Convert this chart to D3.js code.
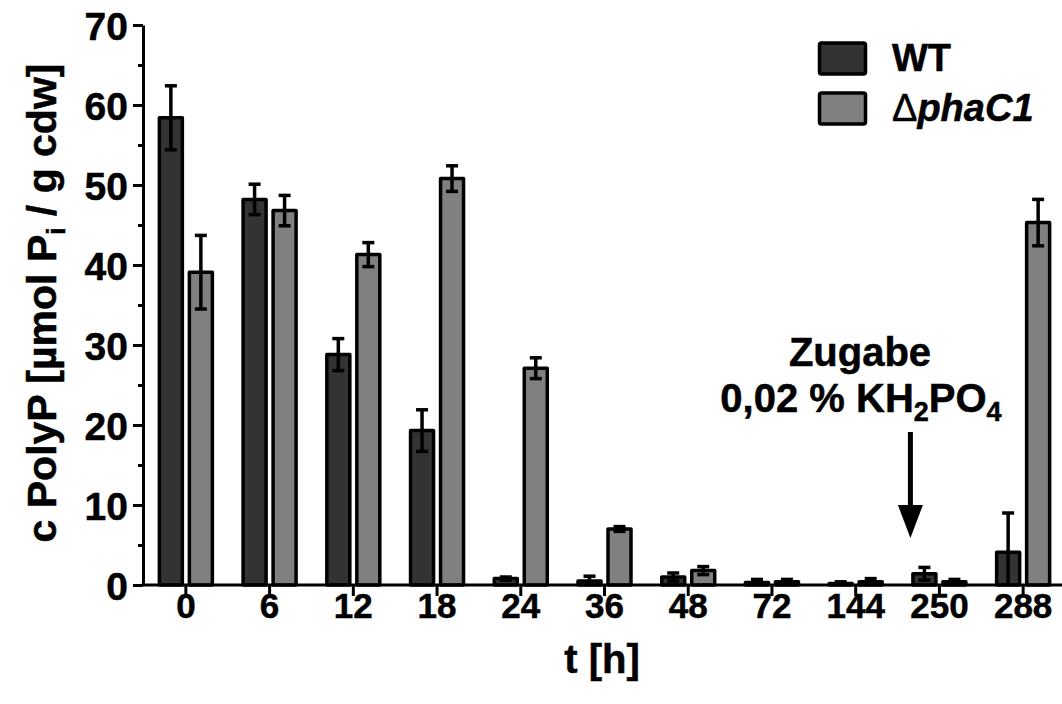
<!DOCTYPE html>
<html><head><meta charset="utf-8">
<script src="https://cdn.jsdelivr.net/npm/d3@7"></script>
<style>
body{margin:0;background:#fff}
svg{display:block}
text{font-family:"Liberation Sans",Arial,Helvetica,sans-serif;font-weight:bold;fill:#000;stroke:#000;stroke-width:0.5px}
</style>
</head><body>
<svg id="chart" width="1062" height="704"></svg>
<script>
// ---- data ----
const categories = ["0","6","12","18","24","36","48","72","144","250","288"];
const wtValues    = [58.4, 48.2, 28.8, 19.3, 0.8, 0.5, 1.0, 0.3, 0.2, 1.4, 4.1];
const wtErrors    = [4.0, 1.9, 2.0, 2.6, 0.2, 0.6, 0.5, 0.4, 0.2, 0.8, 4.9];
const deltaValues = [39.1, 46.8, 41.3, 50.8, 27.1, 7.0, 1.8, 0.4, 0.4, 0.4, 45.3];
const deltaErrors = [4.6, 1.9, 1.5, 1.6, 1.3, 0.3, 0.5, 0.3, 0.4, 0.3, 2.9];
const yTicks = [0, 10, 20, 30, 40, 50, 60, 70];
const yMinorTicks = [5, 15, 25, 35, 45, 55, 65];
const seriesNames = ["WT", "phaC1"];
const seriesColors = ["#333333", "#808080"];

const svg = d3.select("#chart");
const x = d3.scaleBand().domain(categories).range([144, 1065]).padding(0);
const y = d3.scaleLinear().domain([0, 70]).range([585, 25]);
const series = d3.scaleOrdinal().domain(seriesNames).range([-15, 15]);
const color = d3.scaleOrdinal().domain(seriesNames).range(seriesColors);
const barW = 23;

const rows = [];
categories.forEach((c, i) => {
  rows.push({c, s: "WT", v: wtValues[i], e: wtErrors[i]});
  rows.push({c, s: "phaC1", v: deltaValues[i], e: deltaErrors[i]});
});
const cx = d => x(d.c) + x.bandwidth() / 2 + series(d.s);

// bars
svg.append("g").selectAll("rect").data(rows).join("rect")
  .attr("x", d => cx(d) - barW / 2)
  .attr("y", d => y(d.v))
  .attr("width", barW)
  .attr("height", d => y(0) - y(d.v))
  .attr("fill", d => color(d.s))
  .attr("stroke", "#000").attr("stroke-width", 3.5)
  .attr("stroke-linejoin", "round");

// error bars
const eg = svg.append("g").attr("stroke", "#000").attr("stroke-width", 3.5).attr("fill", "none");
rows.forEach(d => {
  const lo = Math.max(0, d.v - d.e), hi = d.v + d.e;
  eg.append("line").attr("x1", cx(d)).attr("x2", cx(d)).attr("y1", y(lo)).attr("y2", y(hi));
  eg.append("line").attr("x1", cx(d) - 6).attr("x2", cx(d) + 6).attr("y1", y(hi)).attr("y2", y(hi));
  if (lo > 0) eg.append("line").attr("x1", cx(d) - 6).attr("x2", cx(d) + 6).attr("y1", y(lo)).attr("y2", y(lo));
});

// y axis
const yAxis = svg.append("g").attr("transform", "translate(143,0)")
  .call(d3.axisLeft(y).tickValues(yTicks).tickSize(10).tickSizeOuter(0).tickPadding(5));
const yMinor = svg.append("g").attr("transform", "translate(143,0)")
  .call(d3.axisLeft(y).tickValues(yMinorTicks).tickSize(5).tickFormat(""));
yMinor.select(".domain").remove();
[yAxis, yMinor].forEach(g => {
  g.attr("font-family", null).attr("font-size", null);
  g.selectAll("path,line").attr("stroke", "#000").attr("stroke-width", 3);
});
yAxis.selectAll("text").style("font-size", "39px").attr("dy", "0.36em");

// x axis
const xAxis = svg.append("g").attr("transform", "translate(0,585)")
  .call(d3.axisBottom(x).tickSize(11).tickSizeOuter(0));
xAxis.attr("font-family", null).attr("font-size", null);
xAxis.select(".domain").attr("d", "M141.5,0H1062");
xAxis.selectAll("path,line").attr("stroke", "#000").attr("stroke-width", 3);
xAxis.selectAll("text").style("font-size", "35px").attr("y", 33).attr("dy", null);

// axis titles
svg.append("text").attr("x", 602).attr("y", 673).attr("text-anchor", "middle")
  .style("font-size", "40px").text("t [h]");
const yt = svg.append("text").attr("transform", "translate(56,303) rotate(-90)")
  .attr("text-anchor", "middle").style("font-size", "41px");
yt.append("tspan").text("c PolyP [µmol P");
yt.append("tspan").attr("dy", 9).style("font-size", "26px").text("i");
yt.append("tspan").attr("dy", -9).text(" / g cdw]");

// legend
const lg = svg.append("g");
seriesNames.forEach((s, i) => {
  lg.append("rect").attr("x", 819.5).attr("y", 43 + i * 50).attr("width", 46).attr("height", 31)
    .attr("rx", 2).attr("fill", color(s)).attr("stroke", "#000").attr("stroke-width", 3.5);
});
lg.append("text").attr("x", 892).attr("y", 71).style("font-size", "38px").text("WT");
const lt = lg.append("text").attr("x", 892).attr("y", 121).style("font-size", "38px");
lt.append("tspan").style("font-weight", "normal").text("Δ");
lt.append("tspan").style("font-style", "italic").text("phaC1");

// annotation
svg.append("text").attr("x", 860).attr("y", 366).attr("text-anchor", "middle")
  .style("font-size", "40px").text("Zugabe");
const an = svg.append("text").attr("x", 861).attr("y", 412).attr("text-anchor", "middle")
  .style("font-size", "40px");
an.append("tspan").text("0,02 % KH");
an.append("tspan").attr("dy", 9).style("font-size", "27px").text("2");
an.append("tspan").attr("dy", -9).text("PO");
an.append("tspan").attr("dy", 9).style("font-size", "27px").text("4");

// arrow
const ax = x("250") + x.bandwidth() / 2 - 29;
svg.append("line").attr("x1", ax).attr("x2", ax).attr("y1", 432).attr("y2", 510)
  .attr("stroke", "#000").attr("stroke-width", 5);
svg.append("path").attr("d", `M${ax - 12.5},505 L${ax + 12.5},505 L${ax},538 Z`).attr("fill", "#000");
</script>
</body></html>
